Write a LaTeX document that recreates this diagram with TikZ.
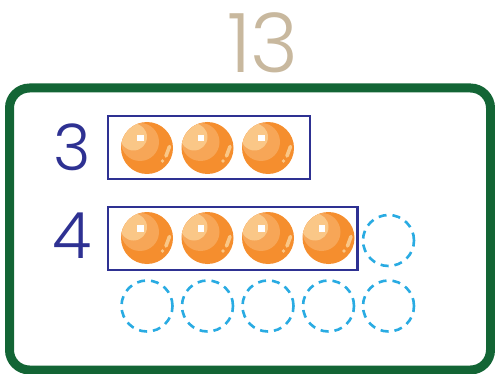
\documentclass[tikz,border=0pt]{standalone}
\usepackage{fontspec}
\setmainfont{Poppins Light}
\usetikzlibrary{positioning}
\definecolor{frameGreen}{HTML}{136535}
\definecolor{trayBlue}{HTML}{2E3192}
\definecolor{slotBlue}{HTML}{29ABE2}
\definecolor{titleTan}{HTML}{C8B89E}
\definecolor{ballDark}{HTML}{F58E2E}
\definecolor{ballMid}{HTML}{F7A657}
\definecolor{ballLight}{HTML}{FAC787}

\begin{document}
\begin{tikzpicture}[
    x=1pt, y=-1pt,
    frame/.style={draw=frameGreen, line width=9pt, rounded corners=20pt},
    tray/.style={draw=trayBlue, line width=2.8pt},
    slot/.style={circle, draw=slotBlue, line width=2.6pt, dash pattern=on 8pt off 6pt, minimum size=51pt, inner sep=0pt},
    ball/.style={circle, fill=ballDark, minimum size=52pt, inner sep=0pt},
    digit/.style={text=trayBlue, font=\fontsize{64}{64}\selectfont, inner sep=0pt}
]
\useasboundingbox (0,0) rectangle (495,374);

% titre
\node[text=titleTan, font=\fontsize{82}{82}\selectfont, inner sep=0pt] (total) at (263,43) {13};

% cadre
\draw[frame] (9.5,88) rectangle (490.5,370);

% nombres
\node[digit] (three) at (72.5,147.5) {3};
\node[digit] (four) at (72.5,236) {4};

% barquettes
\draw[tray] (108,116) rectangle (310,179);
\draw[tray] (108,207) rectangle (357.5,270);

% boules
\foreach \n/\px/\py in {a1/147/148, a2/207.5/148, a3/268/148,
                        b1/147/238, b2/207.5/238, b3/268/238, b4/328.5/238} {
  \node[ball] (\n) at (\px,\py) {};
  \begin{scope}
    \clip (\n.center) circle (26pt);
    \fill[ballMid] ([shift={(-7,-6)}]\n.center) circle (19pt);
    \fill[ballLight] ([shift={(-13.5,-11)}]\n.center) circle (13.5pt);
  \end{scope}
  \fill[white] ([shift={(-10,-13)}]\n.center) rectangle ++(6.5,6.5);
  \draw[ballLight, line width=3.6pt, line cap=round]
    ([shift={(22.5,-1.5)}]\n.center) -- ([shift={(19,8)}]\n.center);
  \fill[ballLight] ([shift={(15.5,13)}]\n.center) circle (1.8pt);
}

% cases vides
\node[slot] (s0) at (388.5,240.5) {};
\foreach \n/\px in {1/147, 2/207.5, 3/268, 4/328.5, 5/388.5}
  \node[slot] (s\n) at (\px,306) {};

\end{tikzpicture}
\end{document}
